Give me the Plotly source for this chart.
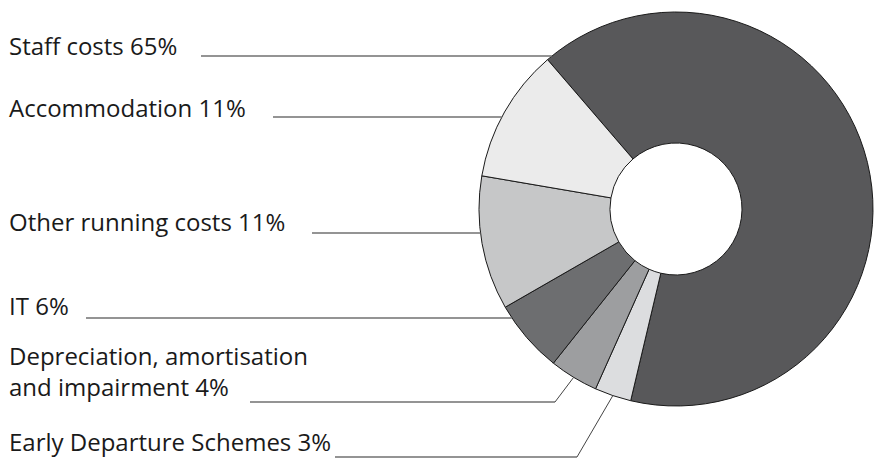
import math
import plotly.graph_objects as go

# Running cost breakdown (percent of total)
categories = ["Staff costs", "Early Departure Schemes",
              "Depreciation, amortisation and impairment", "IT",
              "Other running costs", "Accommodation"]
values = [65, 3, 4, 6, 11, 11]
colors = ["#58585a", "#dcdddf", "#9d9ea0", "#6d6e70", "#c6c7c8", "#ebebeb"]

# Label text lines for each category, with its row positions (pixels from top)
label_lines = {
    "Staff costs": ["Staff costs 65%"],
    "Accommodation": ["Accommodation 11%"],
    "Other running costs": ["Other running costs 11%"],
    "IT": ["IT 6%"],
    "Depreciation, amortisation and impairment": ["Depreciation, amortisation", "and impairment 4%"],
    "Early Departure Schemes": ["Early Departure Schemes 3%"],
}
label_rows = {
    "Staff costs": [46],
    "Accommodation": [107],
    "Other running costs": [221],
    "IT": [305],
    "Depreciation, amortisation and impairment": [355, 386],
    "Early Departure Schemes": [441],
}
# leader line: (start x, y, knee x or None)
leaders = {
    "Staff costs": (201, 56, None),
    "Accommodation": (273, 117, None),
    "Other running costs": (312, 233, None),
    "IT": (86, 318, None),
    "Depreciation, amortisation and impairment": (250, 402, 555),
    "Early Departure Schemes": (335, 457, 577),
}

W, H = 878, 460
CX, CY, R = 676, 209, 197
HOLE = 66 / 197


def px(x):
    return x / W


def py(y):
    return 1 - y / H


fig = go.Figure(go.Pie(
    labels=categories,
    values=values,
    sort=False,
    direction="clockwise",
    rotation=-40.7,
    hole=HOLE,
    marker=dict(colors=colors, line=dict(color="#1a1a1a", width=1)),
    textinfo="none",
    hoverinfo="label+percent",
    showlegend=False,
    domain=dict(x=[px(CX - R), px(CX + R)], y=[py(CY + R), py(CY - R)]),
))

# slice mid-angles (clockwise from 12 o'clock) for the elbow leaders
total = sum(values)
start = -40.7
mid_angle = {}
acc = start
for c, v in zip(categories, values):
    ang = v / total * 360
    mid_angle[c] = acc + ang / 2
    acc += ang

annotations = []
shapes = []
for c in categories:
    for line, row in zip(label_lines[c], label_rows[c]):
        annotations.append(dict(
            x=px(7), y=py(row), xref="paper", yref="paper",
            xanchor="left", yanchor="middle", showarrow=False,
            text=line, font=dict(family="Open Sans", size=24, color="#1a1a1a"),
        ))
    x0, y0, knee = leaders[c]
    if knee is None:
        xe = CX - math.sqrt(R * R - (y0 - CY) ** 2)
        shapes.append(dict(type="line", xref="paper", yref="paper",
                           x0=px(x0), y0=py(y0), x1=px(xe), y1=py(y0),
                           line=dict(color="#707070", width=1.6)))
    else:
        shapes.append(dict(type="line", xref="paper", yref="paper",
                           x0=px(x0), y0=py(y0), x1=px(knee), y1=py(y0),
                           line=dict(color="#707070", width=1.6)))
        a = math.radians(mid_angle[c])
        ex = CX + R * math.sin(a)
        ey = CY - R * math.cos(a)
        shapes.append(dict(type="line", xref="paper", yref="paper",
                           x0=px(knee), y0=py(y0), x1=px(ex), y1=py(ey),
                           line=dict(color="#444444", width=1)))

fig.update_layout(
    width=W, height=H,
    margin=dict(l=0, r=0, t=0, b=0),
    paper_bgcolor="white", plot_bgcolor="white",
    annotations=annotations, shapes=shapes,
)

fig.write_html("out.html")
